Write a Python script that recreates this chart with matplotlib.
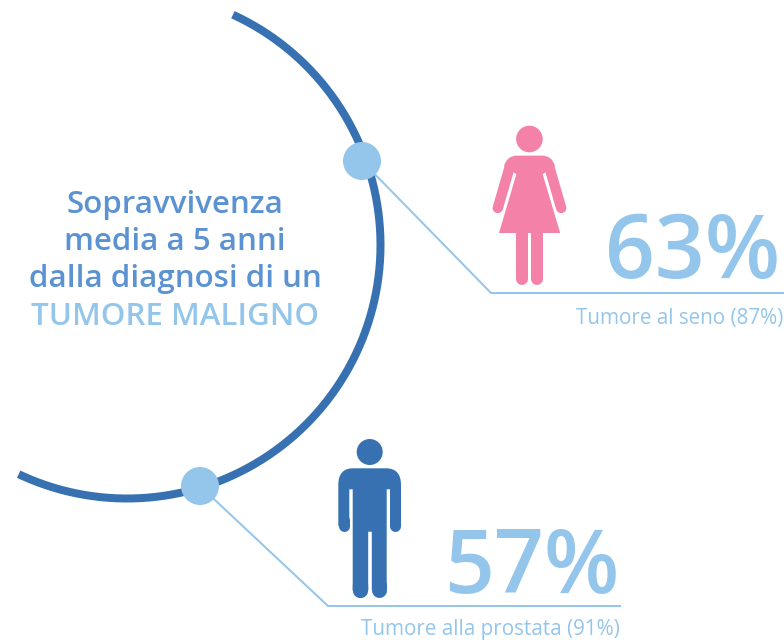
import numpy as np
import matplotlib
matplotlib.use('Agg')
import matplotlib.pyplot as plt
from matplotlib.patches import Circle, PathPatch
from matplotlib.path import Path

plt.rcParams['font.family'] = ['Open Sans', 'DejaVu Sans']

title_lines = ['Sopravvivenza', 'media a 5 anni', 'dalla diagnosi di un']
title_accent = 'TUMORE MALIGNO'
tumor_names = ['Tumore al seno', 'Tumore alla prostata']
women_men_survival = [63, 57]
site_survival = [87, 91]

DARK = '#3771b1'
LIGHT = '#94c6ec'
PINK = '#f482a8'
MID = '#5b92d2'
PX = 72 / 100  # px to points


def rounded_line(ax, xs, ys, width, color):
    ax.plot(xs, ys, color=color, lw=width * PX, solid_capstyle='round', zorder=3)


def draw_poly(ax, verts, codes, color):
    ax.add_patch(PathPatch(Path(verts, codes), fc=color, ec='none', zorder=3))


def draw_woman(ax, color):
    ax.add_patch(Circle((529.4, 139), 13.3, fc=color, ec='none', zorder=3))
    M, L, C, Z = Path.MOVETO, Path.LINETO, Path.CURVE3, Path.CLOSEPOLY
    # shoulders
    verts = [(517, 155.6), (542, 155.6), (552, 155.6), (555, 166), (543, 174), (516, 174),
             (504, 166), (507, 155.6), (517, 155.6), (517, 155.6)]
    codes = [M, L, C, C, L, L, L, C, C, Z]
    draw_poly(ax, verts, codes, color)
    # dress
    draw_poly(ax, [(517, 172), (542, 172), (560.2, 233), (499, 233), (517, 172)],
              [M, L, L, L, Z], color)
    rounded_line(ax, [509.7, 497.8], [167, 208], 10.4, color)
    rounded_line(ax, [549.3, 561.2], [167, 208], 10.4, color)
    rounded_line(ax, [521.7, 521.7], [230, 278.5], 12, color)
    rounded_line(ax, [537.5, 537.5], [230, 278.5], 12, color)


def draw_man(ax, color):
    ax.add_patch(Circle((369.7, 452), 13, fc=color, ec='none', zorder=3))
    M, L, C, Z = Path.MOVETO, Path.LINETO, Path.CURVE3, Path.CLOSEPOLY
    # torso, arms and legs as one outline so no seams show
    verts = [(353, 468.3), (386, 468.3), (401, 468.3), (401, 485), (401, 526), (390, 526),
             (390, 489.3), (386.7, 489.3), (386.7, 590), (371.8, 590), (371.8, 531.7), (368.2, 531.7),
             (368.2, 590), (352.7, 590), (352.7, 489.3), (349.3, 489.3),
             (349.3, 526), (338.3, 526), (338.3, 485), (338.3, 468.3), (353, 468.3), (353, 468.3)]
    codes = [M, L, C, C, L, L, L, L, L, L, L, L, L, L, L, L, L, L, L, C, C, Z]
    draw_poly(ax, verts, codes, color)
    rounded_line(ax, [343.8, 343.8], [520, 526], 11, color)
    rounded_line(ax, [395.5, 395.5], [520, 526], 11, color)
    rounded_line(ax, [360.4, 360.4], [585, 590], 15.4, color)
    rounded_line(ax, [379.2, 379.2], [585, 590], 15, color)


fig = plt.figure(figsize=(7.84, 6.4), dpi=100)
ax = fig.add_axes([0, 0, 1, 1])
ax.set_xlim(0, 784)
ax.set_ylim(640, 0)
ax.axis('off')

# main arc
theta = np.radians(np.linspace(-65.3, 115.3, 300))
ax.plot(127 + 253.5 * np.cos(theta), 245 + 253.5 * np.sin(theta), color=DARK, lw=8 * PX,
        solid_capstyle='butt', zorder=1)

# connectors
ax.plot([362, 491, 784], [161, 293, 293], color=LIGHT, lw=2 * PX, zorder=2)
ax.plot([200, 328, 620], [486, 606, 606], color=LIGHT, lw=2 * PX, zorder=2)
ax.add_patch(Circle((362, 161), 19, fc=LIGHT, ec='none', zorder=3))
ax.add_patch(Circle((200, 486), 19, fc=LIGHT, ec='none', zorder=3))

draw_woman(ax, PINK)
draw_man(ax, DARK)

# left text
for line, y in zip(title_lines, [212.5, 249.5, 287.5]):
    ax.text(175, y, line, color=MID, fontsize=22.5, fontweight='semibold', ha='center', va='baseline')
ax.text(175, 325, title_accent, color=LIGHT, fontsize=22.5, fontweight='semibold', ha='center', va='baseline')

# big numbers and captions
ax.text(780, 278, f'{women_men_survival[0]}%', color=LIGHT, fontsize=63, fontweight='semibold',
        ha='right', va='baseline')
ax.text(619.5, 593, f'{women_men_survival[1]}%', color=LIGHT, fontsize=63, fontweight='semibold',
        ha='right', va='baseline')
ax.text(783.5, 324, f'{tumor_names[0]} ({site_survival[0]}%)', color=LIGHT, fontsize=14.9,
        ha='right', va='baseline')
ax.text(619.5, 635, f'{tumor_names[1]} ({site_survival[1]}%)', color=LIGHT, fontsize=14.9,
        ha='right', va='baseline')

fig.savefig('out.png', dpi=100, facecolor='white')
